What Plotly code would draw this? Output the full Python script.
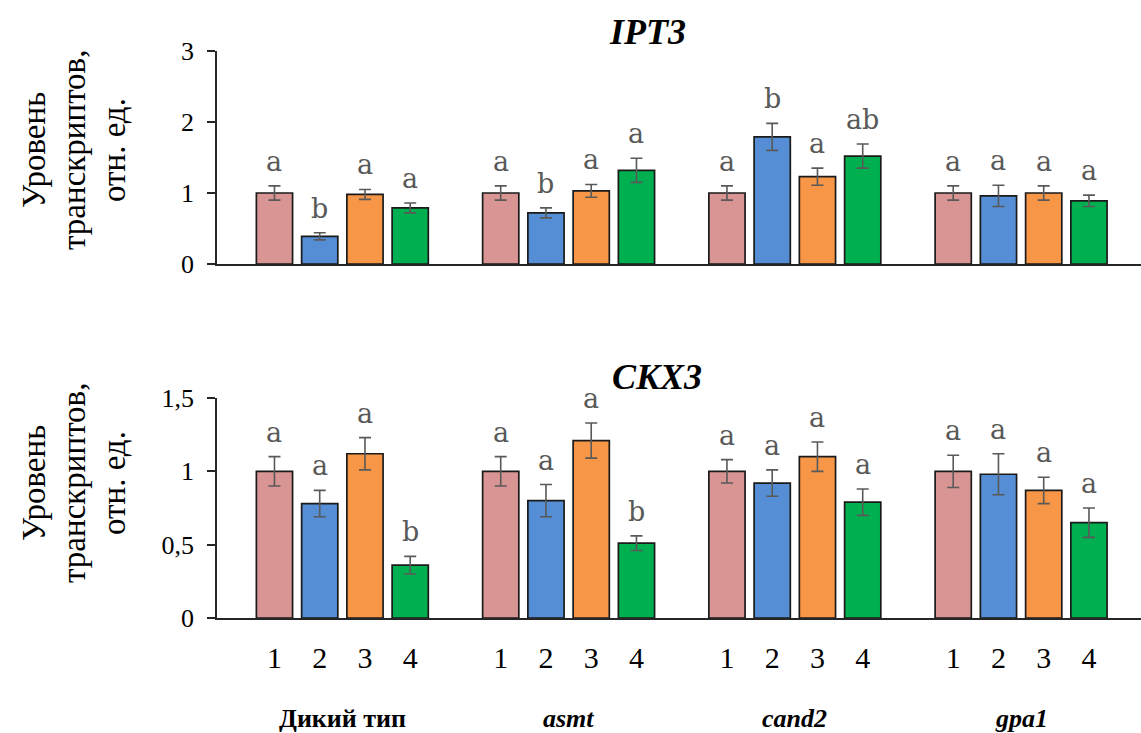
import plotly.graph_objects as go

# ---------------- data ----------------
groups = ["Дикий тип", "asmt", "cand2", "gpa1"]
group_italic = [False, True, True, True]
treatments = ["1", "2", "3", "4"]
colors = ["#D99594", "#558ED5", "#F79646", "#00B050"]

ipt3_values = [[1.00, 0.39, 0.98, 0.79],
               [1.00, 0.72, 1.03, 1.32],
               [1.00, 1.79, 1.23, 1.52],
               [1.00, 0.96, 1.00, 0.89]]
ipt3_errors = [[0.10, 0.05, 0.07, 0.07],
               [0.10, 0.07, 0.09, 0.17],
               [0.10, 0.19, 0.12, 0.17],
               [0.10, 0.15, 0.10, 0.08]]
ipt3_letters = [["a", "b", "a", "a"],
                ["a", "b", "a", "a"],
                ["a", "b", "a", "ab"],
                ["a", "a", "a", "a"]]

ckx3_values = [[1.00, 0.78, 1.12, 0.36],
               [1.00, 0.80, 1.21, 0.51],
               [1.00, 0.92, 1.10, 0.79],
               [1.00, 0.98, 0.87, 0.65]]
ckx3_errors = [[0.10, 0.09, 0.11, 0.06],
               [0.10, 0.11, 0.12, 0.05],
               [0.08, 0.09, 0.10, 0.09],
               [0.11, 0.14, 0.09, 0.10]]
ckx3_letters = [["a", "a", "a", "b"],
                ["a", "a", "a", "b"],
                ["a", "a", "a", "a"],
                ["a", "a", "a", "a"]]

y_title_lines = ["Уровень", "транскриптов,", "отн. ед."]
titles = ["IPT3", "CKX3"]

# ---------------- layout helpers ----------------
W, H = 1141, 733
GROUP_STEP = 5
positions = [[g * GROUP_STEP + t for t in range(4)] for g in range(4)]
x_range = [-1.27, 19.15]

SERIF = "Liberation Serif, Times New Roman, serif"
AXIS_COL = "#262626"

fig = go.Figure()

panels = [
    ("x", "y", ipt3_values, ipt3_errors, ipt3_letters),
    ("x2", "y2", ckx3_values, ckx3_errors, ckx3_letters),
]

annotations = []
shapes = []
for xa, ya, vals, errs, lets in panels:
    for t in range(4):
        xs = [positions[g][t] for g in range(4)]
        ys = [vals[g][t] for g in range(4)]
        es = [errs[g][t] for g in range(4)]
        fig.add_trace(go.Bar(
            x=xs, y=ys, width=0.8, xaxis=xa, yaxis=ya,
            marker=dict(color=colors[t], line=dict(color="#1a1a1a", width=1.7)),
            error_y=dict(type="data", array=es, visible=True,
                         color="#595959", thickness=1.6, width=6),
            showlegend=False, hoverinfo="skip",
        ))
        for g in range(4):
            annotations.append(dict(
                x=positions[g][t], y=vals[g][t] + errs[g][t], xref=xa, yref=ya,
                text=lets[g][t], showarrow=False, xanchor="center",
                yanchor="bottom", yshift=7,
                font=dict(family="DejaVu Serif, serif", size=27, color="#595959"),
            ))
    # small downward tick at the axis origin
    shapes.append(dict(type="line", xref=xa + " domain", x0=0, x1=0,
                       yref=ya, ysizemode="pixel", yanchor=0, y0=0, y1=-7,
                       line=dict(color=AXIS_COL, width=1.5)))

# panel titles
for title, (tx, ty) in zip(titles, [(647, 32), (657, 377)]):
    annotations.append(dict(x=tx / W, y=1 - ty / H, xref="paper", yref="paper",
                            text="<b><i>" + title + "</i></b>", showarrow=False,
                            xanchor="center", yanchor="middle",
                            font=dict(family=SERIF, size=36, color="#000")))

# y-axis titles (three lines each)
line_x = [34, 74, 114]
for yc in (150, 483):
    for lx, txt in zip(line_x, y_title_lines):
        annotations.append(dict(x=lx / W, y=1 - yc / H, xref="paper", yref="paper",
                                text=txt, showarrow=False, textangle=-90,
                                xanchor="center", yanchor="middle",
                                font=dict(family=SERIF, size=33, color="#000")))

# group labels
for g, name in enumerate(groups):
    txt = "<b><i>" + name + "</i></b>" if group_italic[g] else "<b>" + name + "</b>"
    annotations.append(dict(x=g * GROUP_STEP + 1.5, y=1 - 718 / H, xref="x2", yref="paper",
                            text=txt, showarrow=False, xanchor="center", yanchor="middle",
                            font=dict(family=SERIF, size=26, color="#000")))

x_dom = [217 / W, 1.0]
all_pos = [p for row in positions for p in row]
all_lbl = [treatments[t] for g in range(4) for t in range(4)]

common_x = dict(range=x_range, showgrid=False, zeroline=False, showline=True,
                linecolor=AXIS_COL, linewidth=1.5, domain=x_dom, automargin=False)
common_y = dict(showgrid=False, zeroline=False, showline=True, linecolor=AXIS_COL,
                linewidth=1.5, ticks="outside", ticklen=8, tickcolor=AXIS_COL,
                tickwidth=1.5, ticklabelstandoff=8, automargin=False,
                tickfont=dict(family=SERIF, size=26, color="#000"))

fig.update_layout(
    width=W, height=H,
    margin=dict(l=0, r=0, t=0, b=0, pad=0),
    paper_bgcolor="white", plot_bgcolor="white",
    barmode="overlay",
    annotations=annotations,
    shapes=shapes,
    xaxis=dict(**common_x, anchor="y", showticklabels=False, ticks=""),
    yaxis=dict(**common_y, anchor="x", domain=[1 - 264 / H, 1 - 51 / H],
               range=[0, 3], tickvals=[0, 1, 2, 3]),
    xaxis2=dict(**common_x, anchor="y2", tickvals=all_pos, ticktext=all_lbl, ticks="",
                ticklabelstandoff=12,
                tickfont=dict(family=SERIF, size=30, color="#000")),
    yaxis2=dict(**common_y, anchor="x2", domain=[1 - 618 / H, 1 - 398 / H],
                range=[0, 1.5], tickvals=[0, 0.5, 1, 1.5],
                ticktext=["0", "0,5", "1", "1,5"]),
)

fig.write_html("out.html")
